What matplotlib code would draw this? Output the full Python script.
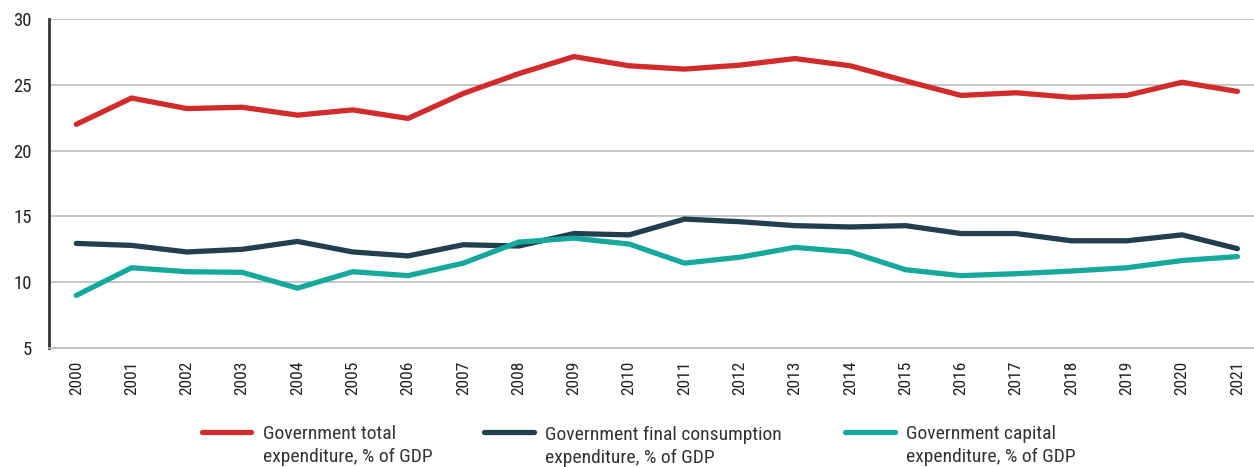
import numpy as np
import matplotlib
matplotlib.use('Agg')
import matplotlib.pyplot as plt
from matplotlib import font_manager

# pick a narrow face if one is installed (the original uses a Myriad-like font)
installed = {f.name for f in font_manager.fontManager.ttflist}
narrow = [n for n in ['Roboto Condensed', 'Liberation Sans Narrow', 'Open Sans Condensed',
                      'Liberation Sans'] if n in installed]
plt.rcParams['font.family'] = narrow[:1] + ['DejaVu Sans']

years = [str(y) for y in range(2000, 2022)]
total = [22.0, 24.0, 23.2, 23.3, 22.7, 23.1, 22.45, 24.35, 25.85, 27.15, 26.45, 26.2,
         26.5, 27.0, 26.45, 25.3, 24.2, 24.4, 24.05, 24.2, 25.2, 24.5]
consumption = [12.95, 12.8, 12.3, 12.5, 13.1, 12.3, 12.0, 12.85, 12.75, 13.7, 13.6, 14.8,
               14.6, 14.3, 14.2, 14.3, 13.7, 13.7, 13.15, 13.15, 13.6, 12.55]
capital = [9.0, 11.1, 10.8, 10.75, 9.55, 10.8, 10.5, 11.45, 13.05, 13.35, 12.9, 11.45,
           11.9, 12.65, 12.3, 10.95, 10.5, 10.65, 10.85, 11.1, 11.65, 11.95]

labels = ['Government total\nexpenditure, % of GDP',
          'Government final consumption\nexpenditure, % of GDP',
          'Government capital\nexpenditure, % of GDP']
colors = ['#d12b2b', '#233f4d', '#14a99a']
legend_x = [0.161, 0.386, 0.674]

fig = plt.figure(figsize=(12.54, 4.67), dpi=100)
ax = fig.add_axes([0.0388, 0.2548, 0.9612, 0.7043])

x = np.arange(len(years))
lines = []
for vals, lab, c in zip([total, consumption, capital], labels, colors):
    ln, = ax.plot(x, vals, color=c, lw=3.8, label=lab, solid_capstyle='round')
    lines.append(ln)

ax.set_xlim(-0.5, 21.3)
ax.set_ylim(5, 30)
ax.set_yticks([5, 10, 15, 20, 25, 30])
ax.set_xticks(x)
ax.set_xticklabels(years, rotation=90)
ax.tick_params(axis='both', length=0, labelsize=13.5, colors='#222222')
ax.tick_params(axis='x', labelsize=12.5, pad=9)
ax.tick_params(axis='y', pad=12)
ax.grid(axis='y', color='#bcbcbc', lw=1.2)
ax.set_axisbelow(True)
for s in ['top', 'right']:
    ax.spines[s].set_visible(False)
ax.spines['left'].set_color('#333333')
ax.spines['left'].set_linewidth(2)
ax.spines['bottom'].set_color('#bcbcbc')
ax.spines['bottom'].set_linewidth(1.2)

# one legend per entry so the gaps can follow the original
for ln, lx in zip(lines, legend_x):
    leg = fig.legend(handles=[ln], loc='upper left', bbox_to_anchor=(lx, 0.089),
                     frameon=False, fontsize=14, handlelength=2.55, handletextpad=0.6,
                     borderpad=0, borderaxespad=0, labelcolor='#333333')
    for t in leg.get_texts():
        t.set_linespacing(1.35)
    for col in leg._legend_handle_box.get_children():
        for row in col.get_children():
            row.align = 'top'

fig.savefig('out.png', dpi=100)
